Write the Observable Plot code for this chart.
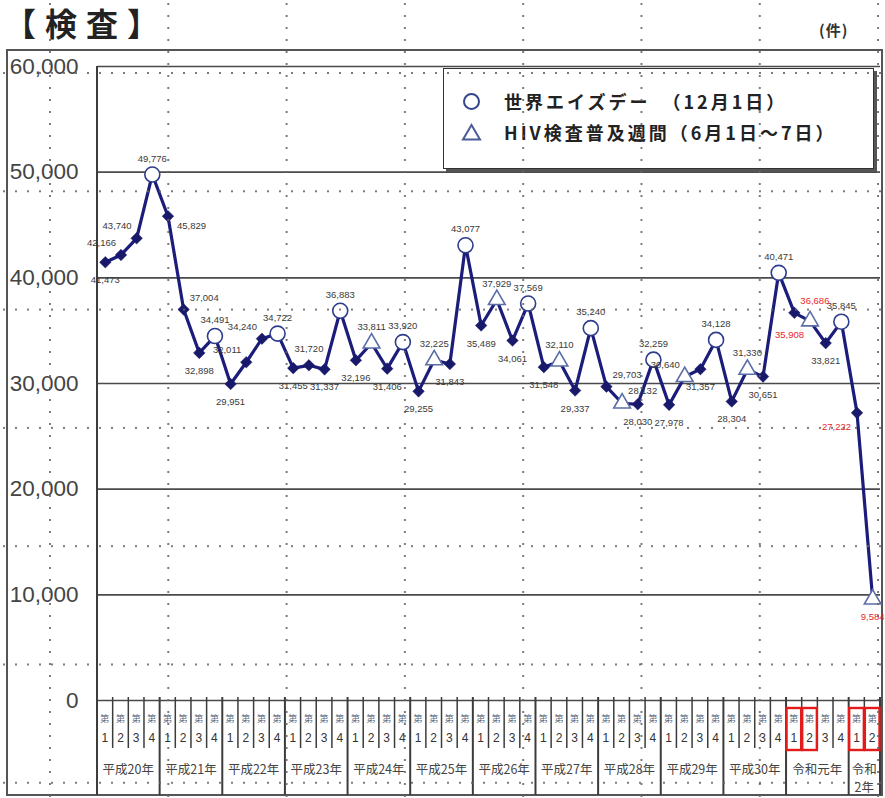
<!DOCTYPE html>
<html><head><meta charset="utf-8">
<script src="https://cdn.jsdelivr.net/npm/d3@7"></script>
<script src="https://cdn.jsdelivr.net/npm/@observablehq/plot@0.6"></script>
<style>
html,body{margin:0;padding:0;background:#fff;}
#page{position:relative;width:885px;height:798px;overflow:hidden;font-family:"Noto Sans CJK JP",sans-serif;}
#title{position:absolute;left:4px;top:6px;font-size:32px;font-weight:700;letter-spacing:9px;line-height:1;color:#222;white-space:pre;}
#unit{position:absolute;left:819px;top:22px;font-size:15px;font-weight:700;color:#333;line-height:1;letter-spacing:1px;}
#chart{position:absolute;left:0;top:49px;}
#legend{position:absolute;left:443px;top:68px;width:429px;height:99px;border:1.5px solid #333;background:#fff;box-shadow:3px 3px 0 #555;}
#legend svg{position:absolute;left:0;top:0;}
.lg{position:absolute;left:60px;font-size:18px;font-weight:700;letter-spacing:3px;line-height:24px;color:#222;white-space:pre;}
#dots{position:absolute;left:0;top:0;width:885px;height:798px;pointer-events:none;
 background-image:radial-gradient(circle at 1px 1px, rgba(100,100,100,.85) 0.8px, transparent 1.4px),
                  radial-gradient(circle at 1px 1px, rgba(100,100,100,.85) 0.8px, transparent 1.4px);
 background-size:118.3px 12px, 12px 118.3px;
 background-position:49px 3px, 3px 72px;}
</style>
</head>
<body>
<div id="page">
  <div id="title"></div>
  <div id="unit"></div>
  <div id="chart"></div>
  <div id="legend">
    <svg width="60" height="99">
      <circle cx="27.5" cy="32.5" r="7.5" fill="none" stroke="#34458c" stroke-width="2"/>
      <path d="M27.5,56 L36,70.5 L19,70.5Z" fill="none" stroke="#4a5c98" stroke-width="2"/>
    </svg>
    <div class="lg" id="lg1" style="top:20px"></div>
    <div class="lg" id="lg2" style="top:51px"></div>
  </div>
  <div id="dots"></div>
</div>
<script>
// ---- data ----
const years = ["平成20年","平成21年","平成22年","平成23年","平成24年","平成25年","平成26年","平成27年","平成28年","平成29年","平成30年","令和元年","令和\n2年"];
const quartersInYear = [4,4,4,4,4,4,4,4,4,4,4,4,2];
const quarterNames = ["1","2","3","4"];
const quarterPrefix = "第";
const values = [
  41473, 42166, 43740, 49776,
  45829, 37004, 32898, 34491,
  29951, 32011, 34240, 34722,
  31455, 31720, 31337, 36883,
  32196, 33811, 31406, 33920,
  29255, 32225, 31843, 43077,
  35489, 37929, 34061, 37569,
  31548, 32110, 29337, 35240,
  29703, 28132, 28030, 32259,
  27978, 30640, 31357, 34128,
  28304, 31330, 30651, 40471,
  36686, 35908, 33821, 35845,
  27222, 9584
];
const highlighted = ["令和元年 1","令和元年 2","令和\n2年 1","令和\n2年 2"];
const hivWeekFirstYear = "平成24年";
const yTicks = [0,10000,20000,30000,40000,50000,60000];
const legendItems = ["世界エイズデー　（12月1日）","HIV検査普及週間（6月1日～7日）"];
const titleText = "【検査】";
const unitText = "(件)";

document.getElementById("title").textContent = titleText;
document.getElementById("unit").textContent = unitText;
document.getElementById("lg1").textContent = legendItems[0];
document.getElementById("lg2").textContent = legendItems[1];

// ---- build table ----
const hivStart = years.indexOf(hivWeekFirstYear);
const points = [];
let k = 0;
years.forEach((yr, yi) => {
  for (let q = 1; q <= quartersInYear[yi]; q++) {
    points.push({
      i: k, year: yr, yi, q, value: values[k],
      type: q === 4 ? "aids" : (q === 2 && yi >= hivStart ? "hiv" : "none"),
      red: highlighted.includes(`${yr} ${q}`)
    });
    k++;
  }
});
// label placement rule
const n = points.length;
points.forEach(p => {
  const prev = points[p.i - 1], next = points[p.i + 1];
  if (!prev || !next) { p.pos = "below"; return; }
  const avg = (prev.value + next.value) / 2;
  if (prev.value < p.value && p.value < next.value) {
    p.pos = (prev.pos === "aboveLeft" && p.value - prev.value < 1200) ? "below" : "aboveLeft";
  } else if (prev.value > p.value && p.value > next.value) {
    if (p.value < avg) p.pos = "aboveRight";
    else if (p.i >= n - 2 || prev.pos === "aboveRight" || prev.pos === "belowRight") p.pos = "belowLeft";
    else p.pos = "belowRight";
  } else {
    p.pos = p.value >= avg ? "above" : "below";
  }
});
const placement = {
  above:      {dx: 0,  dy: -16, textAnchor: "middle"},
  below:      {dx: 0,  dy: 18,  textAnchor: "middle"},
  aboveLeft:  {dx: -5, dy: -12, textAnchor: "end"},
  aboveRight: {dx: 6,  dy: -12, textAnchor: "start"},
  belowRight: {dx: 9,  dy: 10,  textAnchor: "start"},
  belowLeft:  {dx: -6, dy: 14,  textAnchor: "end"}
};
const fmt = d3.format(",");

function table(index, scales, vals, dims) {
  const x = scales.x;
  const {width, height, marginTop, marginBottom, marginLeft} = dims;
  const y0 = height - marginBottom;
  const bottom = height - 3;
  const g = d3.create("svg:g");
  const line = (x1, y1, x2, y2, w) => g.append("line")
    .attr("x1", x1).attr("y1", y1).attr("x2", x2).attr("y2", y2)
    .attr("stroke", "#3c3c3c").attr("stroke-width", w);
  g.append("rect").attr("x", 7).attr("y", 1).attr("width", width - 10).attr("height", height - 4)
    .attr("fill", "none").attr("stroke", "#555").attr("stroke-width", 2);
  line(marginLeft, marginTop, marginLeft, bottom, 2);
  const step = x(1) - x(0);
  points.forEach(p => {
    const xb = x(p.i - 0.5);
    if (p.q === 1) line(xb, y0 - 3, xb, bottom, 2);
    else line(xb, y0 - 3, xb, y0 + 48, 1.5);
  });
  line(x(n - 0.5), y0 - 3, x(n - 0.5), bottom, 2);
  points.forEach(p => {
    const cx = x(p.i);
    g.append("text").attr("x", cx).attr("y", y0 + 18).attr("text-anchor", "middle")
      .attr("dominant-baseline", "central").attr("font-size", 9).attr("fill", "#5a6a80")
      .attr("font-family", "'Noto Sans CJK JP'").text(quarterPrefix);
    g.append("text").attr("x", cx).attr("y", y0 + 38).attr("text-anchor", "middle")
      .attr("dominant-baseline", "central").attr("font-size", 12).attr("fill", "#333")
      .attr("font-family", "'Liberation Sans', Arial").text(quarterNames[p.q - 1]);
    if (p.red) {
      g.append("rect").attr("x", x(p.i - 0.5) + 0.5).attr("y", y0 + 8)
        .attr("width", step - 1).attr("height", 42).attr("fill", "none")
        .attr("stroke", "#e31b1b").attr("stroke-width", 2.4);
    }
  });
  years.forEach((yr, yi) => {
    const ps = points.filter(p => p.yi === yi);
    const cx = (x(ps[0].i - 0.5) + x(ps[ps.length - 1].i + 0.5)) / 2;
    yr.split("\n").forEach((t, li) => {
      g.append("text").attr("x", cx).attr("y", y0 + 68 + li * 18).attr("text-anchor", "middle")
        .attr("dominant-baseline", "central").attr("font-size", 12.5).attr("fill", "#444")
        .attr("font-family", "'Noto Sans CJK JP'").text(t);
    });
  });
  return g.node();
}

const labelFont = {fontSize: 9.5, fontFamily: "'Liberation Sans', Arial, sans-serif"};
const labelMarks = [];
for (const red of [false, true]) {
  for (const [pos, opt] of Object.entries(placement)) {
    const sub = points.filter(p => p.red === red && p.pos === pos);
    if (!sub.length) continue;
    labelMarks.push(Plot.text(sub, {
      x: "i", y: "value", text: d => fmt(d.value), ...opt,
      fill: red ? "#e8262b" : "#3a3a3a", ...labelFont
    }));
  }
}

const plot = Plot.plot({
  width: 885, height: 749,
  marginLeft: 97, marginRight: 5, marginTop: 17, marginBottom: 98,
  x: {domain: [-0.5, n - 0.5], axis: null},
  y: {domain: [0, 60000], axis: null},
  style: {background: "transparent", fontFamily: "'Liberation Sans', Arial, sans-serif", overflow: "visible"},
  marks: [
    Plot.ruleY(yTicks, {stroke: "#4a4a4a", strokeWidth: 1.6}),
    Plot.text(yTicks, {y: d => d, text: d => fmt(d), frameAnchor: "left", textAnchor: "end", dx: -19, fontSize: 22.5, fill: "#444"}),
    table,
    Plot.line(points, {x: "i", y: "value", stroke: "#1c1c7a", strokeWidth: 3.2}),
    Plot.dot(points.filter(p => p.type === "none"), {x: "i", y: "value", symbol: "diamond2", r: 5.2, fill: "#19196b", stroke: "#19196b", strokeWidth: 0.5}),
    Plot.dot(points.filter(p => p.type === "aids"), {x: "i", y: "value", symbol: "circle", r: 7.5, fill: "white", stroke: "#2d3d8c", strokeWidth: 1.6}),
    Plot.dot(points.filter(p => p.type === "hiv"), {x: "i", y: "value", symbol: "triangle", r: 6.2, fill: "white", stroke: "#5b6ea6", strokeWidth: 1.6}),
    ...labelMarks
  ]
});
document.getElementById("chart").appendChild(plot);
</script>
</body></html>
